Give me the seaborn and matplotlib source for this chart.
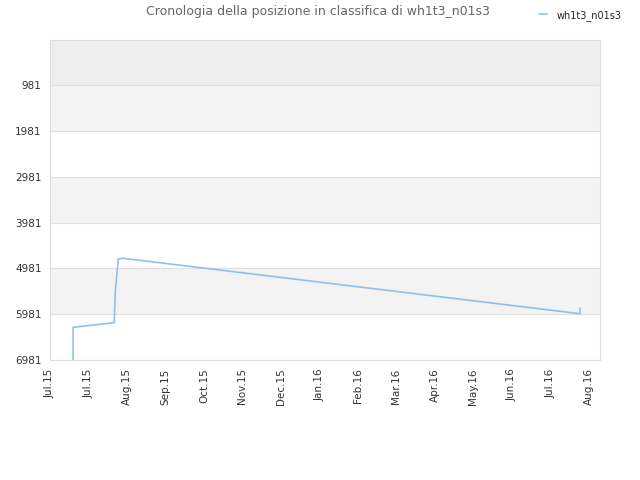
import matplotlib
matplotlib.use("Agg")
import matplotlib.pyplot as plt
import seaborn as sns
import pandas as pd

player = "wh1t3_n01s3"
dates = ["2015-07-19", "2015-07-19", "2015-08-20", "2015-08-20", "2015-08-21",
         "2015-08-22", "2015-08-23", "2015-08-23", "2015-08-27", "2016-08-17", "2016-08-17"]
ranks = [6981, 6268, 6168, 6168, 5439, 5148, 4850, 4778, 4762, 5971, 5847]

tick_start = pd.Timestamp("2015-07-01")
tick_labels = ["Jul.15", "Jul.15", "Aug.15", "Sep.15", "Oct.15", "Nov.15", "Dec.15",
               "Jan.16", "Feb.16", "Mar.16", "Apr.16", "May.16", "Jun.16", "Jul.16", "Aug.16"]
y_ticks = [981, 1981, 2981, 3981, 4981, 5981, 6981]

df = pd.DataFrame({"date": pd.to_datetime(dates), "rank": ranks})

sns.set_style("white")
plt.rcParams['font.family'] = ['DejaVu Sans']

fig = plt.figure(figsize=(6.4, 4.8), dpi=100)
ax = fig.add_axes([50 / 640, 120 / 480, 550 / 640, 320 / 480])

# alternating bands
bands = [(-1, 981, "#eeeeee"), (981, 1981, "#f3f3f3"), (2981, 3981, "#f3f3f3"),
         (4981, 5981, "#f3f3f3")]
for lo, hi, c in bands:
    ax.axhspan(lo, hi, color=c, zorder=0, lw=0)
for y in y_ticks:
    ax.axhline(y, color="#e0e0e0", lw=0.8, zorder=1)

sns.lineplot(data=df, x="date", y="rank", ax=ax, color="#90c0f0", lw=1.2,
             sort=False, estimator=None, label=player, zorder=3)

ax.set_ylim(6981, -1)
ax.set_yticks(y_ticks)
ax.set_yticklabels([str(v) for v in y_ticks], fontsize=7.5, color="#333333")

ticks = [tick_start + pd.Timedelta(days=30 * i) for i in range(len(tick_labels))]
ax.set_xticks(ticks)
ax.set_xticklabels(tick_labels, rotation=90, fontsize=7.5, color="#333333")
ax.set_xlim(tick_start, tick_start + pd.Timedelta(days=428.6))
ax.tick_params(length=0, pad=6)
ax.set_xlabel("")
ax.set_ylabel("")

for s in ax.spines.values():
    s.set_color("#dddddd")

fig.text(318 / 640, 1 - 12 / 480, "Cronologia della posizione in classifica di " + player,
         ha="center", va="center", fontsize=9, color="#666666")
ax.legend(loc="upper right", bbox_to_anchor=(630 / 640, 1 - 1 / 480),
          bbox_transform=fig.transFigure, frameon=False, fontsize=7,
          handlelength=0.8, handletextpad=1.0)

fig.savefig("out.png", dpi=100)
